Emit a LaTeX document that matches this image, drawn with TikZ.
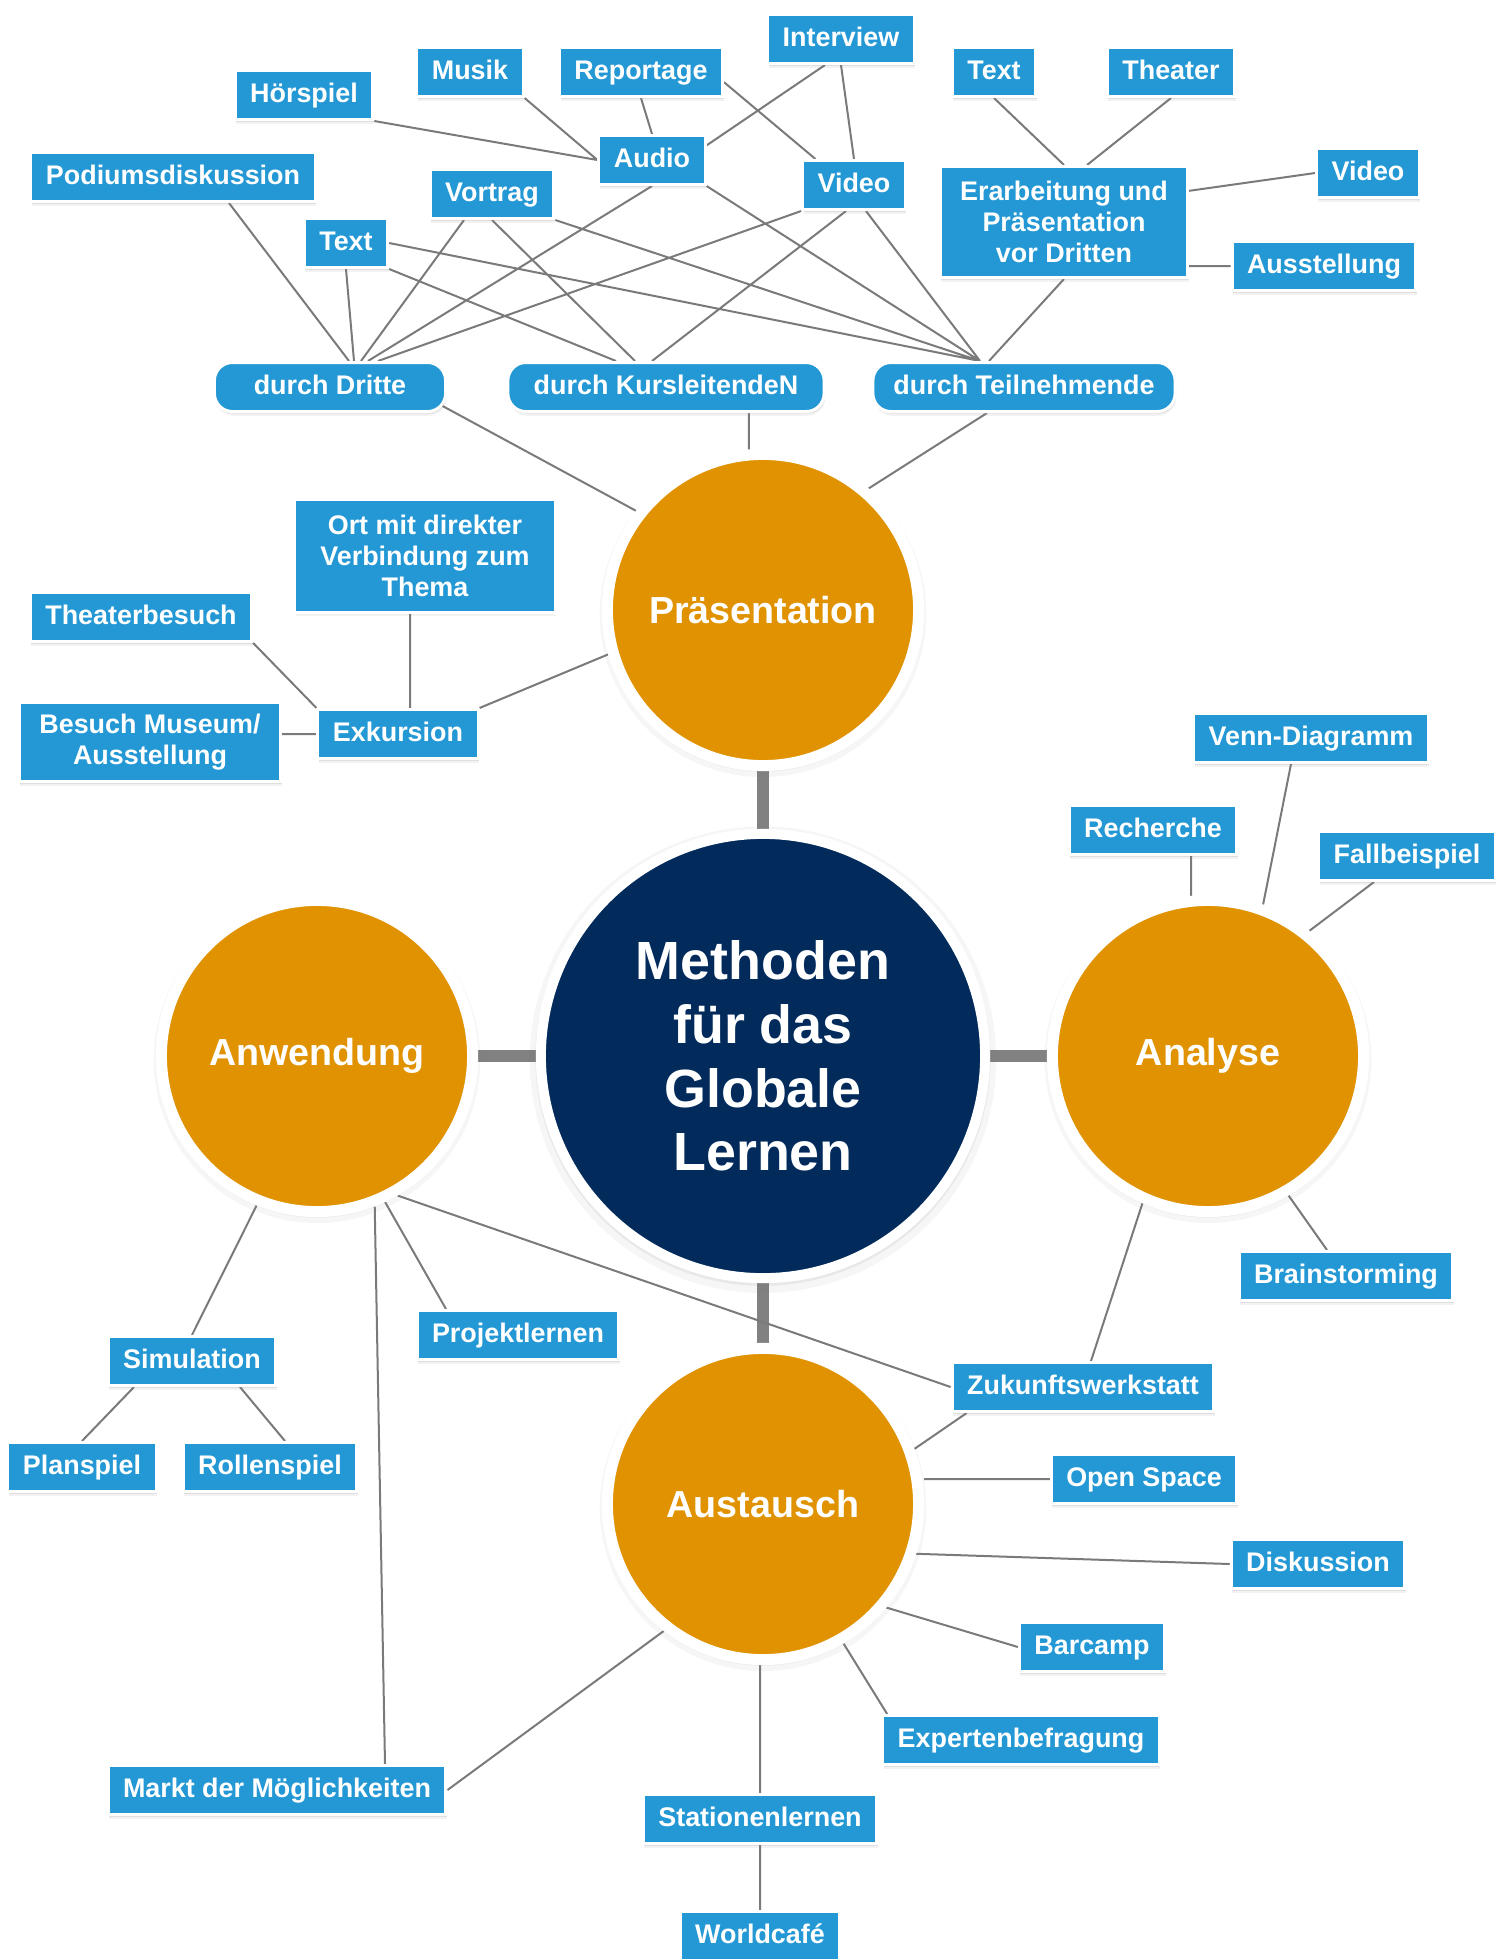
\documentclass[tikz,border=0pt]{standalone}
\usepackage{fontspec}
\setmainfont{Liberation Sans}
\usepackage{tikz}
\usetikzlibrary{calc,shadows}
\definecolor{method blue}{RGB}{35,152,213}
\definecolor{phase orange}{RGB}{224,146,0}
\definecolor{core navy}{RGB}{2,43,92}
\definecolor{link gray}{RGB}{122,122,122}
\pgfdeclarelayer{bg}
\pgfsetlayers{bg,main}

\tikzset{
	box base/.style={draw=white, line width=0.03cm, fill=method blue, text=white,
		font=\fontsize{7.65}{8.8}\selectfont\bfseries, inner xsep=0.15cm, inner ysep=0pt,
		minimum height=0.49cm, align=center,
		drop shadow={opacity=0.1, shadow xshift=0.3pt, shadow yshift=-1.2pt},
		drop shadow={opacity=0.18, shadow xshift=0.3pt, shadow yshift=-0.6pt}},
	method/.style={box base, text height=5.6pt, text depth=1.6pt},
	method block/.style={box base},
	via/.style={method, rounded corners=0.18cm},
	halo/.style={drop shadow={opacity=0.07, shadow scale=1.05, shadow xshift=0pt, shadow yshift=-1pt},
		drop shadow={opacity=0.12, shadow scale=1.025, shadow xshift=0pt, shadow yshift=-0.6pt}},
	phase/.style={circle, draw=white, line width=0.11cm, fill=phase orange, text=white,
		font=\fontsize{10.7}{12.8}\selectfont\bfseries, minimum size=3.11cm, inner sep=0pt, halo},
	link/.style={draw=link gray, line width=0.02cm},
	bond/.style={draw=link gray!95, line width=0.12cm}
}

\begin{document}
\begin{tikzpicture}[x=0.01cm, y=-0.01cm]
		\useasboundingbox (0,0) rectangle (1503,1959);
		% centre and the four phases
		\node[circle, draw=white, line width=0.1cm, fill=core navy, text=white, minimum size=4.44cm,
			inner sep=0pt, align=center, font=\fontsize{15.3}{18.1}\selectfont\bfseries, halo]
			(core) at (763,1056) {Methoden\\für das\\Globale\\Lernen};
		\node[phase] (praes) at (763,610) {Präsentation};
		\node[phase] (analyse) at (1208,1056) {Analyse};
		\node[phase] (anw) at (317,1056) {Anwendung};
		\node[phase] (aust) at (763,1504) {Austausch};
		% part for Praesentation
		\node[method] (interview) at (841,39) {Interview};
		\node[method] (texttop) at (994,72) {Text};
		\node[method] (theater) at (1171,72) {Theater};
		\node[method] (musik) at (470,72) {Musik};
		\node[method] (reportage) at (641,72) {Reportage};
		\node[method] (hoerspiel) at (304,95) {Hörspiel};
		\node[method] (audio) at (652,160) {Audio};
		\node[method] (video) at (854,185) {Video};
		\node[method] (podium) at (173,177) {Podiumsdiskussion};
		\node[method] (vortrag) at (492,194) {Vortrag};
		\node[method] (textleft) at (346,243) {Text};
		\node[method block, minimum width=2.47cm, minimum height=1.11cm] (erarb) at (1064,222)
			{Erarbeitung und\\Präsentation\\vor Dritten};
		\node[method] (videoright) at (1368,173) {Video};
		\node[method] (ausstellung) at (1324,266) {Ausstellung};
		\node[via, minimum width=2.31cm] (dritte) at (330,387) {durch Dritte};
		\node[via, minimum width=3.16cm] (kursl) at (666,387) {durch KursleitendeN};
		\node[via, minimum width=3.02cm] (teiln) at (1024,387) {durch Teilnehmende};
		\node[method block, minimum width=2.60cm, minimum height=1.12cm] (ort) at (425,556)
			{Ort mit direkter\\Verbindung zum\\Thema};
		\node[method] (theaterbesuch) at (141,617) {Theaterbesuch};
		\node[method block, minimum width=2.61cm, minimum height=0.79cm] (museum) at (150,742)
			{Besuch Museum/\\Ausstellung};
		\node[method] (exkursion) at (398,734) {Exkursion};
		% part for Analyse
		\node[method] (venn) at (1311,738) {Venn-Diagramm};
		\node[method] (recherche) at (1153,830) {Recherche};
		\node[method] (fallbeispiel) at (1407,856) {Fallbeispiel};
		\node[method] (brainstorming) at (1346,1276) {Brainstorming};
		% part for Anwendung
		\node[method] (projekt) at (518,1335) {Projektlernen};
		\node[method] (simulation) at (192,1361) {Simulation};
		\node[method] (planspiel) at (82,1467) {Planspiel};
		\node[method] (rollenspiel) at (270,1467) {Rollenspiel};
		\node[method] (markt) at (277,1790) {Markt der Möglichkeiten};
		% part for Austausch
		\node[method] (zukunft) at (1083,1387) {Zukunftswerkstatt};
		\node[method] (openspace) at (1144,1479) {Open Space};
		\node[method] (diskussion) at (1318,1564) {Diskussion};
		\node[method] (barcamp) at (1092,1647) {Barcamp};
		\node[method] (experten) at (1021,1740) {Expertenbefragung};
		\node[method] (stationen) at (760,1819) {Stationenlernen};
		\node[method] (worldcafe) at (760,1936) {Worldcafé};
		\path ($(exkursion.north)+(12,0)$) coordinate (exktop);
		% connectors, behind the nodes
		\begin{pgfonlayer}{bg}
			\draw[bond] (core) -- (praes) (core) -- (analyse) (core) -- (anw) (core) -- (aust);
			\draw[link]
				(hoerspiel.south east) -- (audio.west)
				(musik.south east) -- (audio.west)
				(reportage.south) -- (audio.north)
				(audio.15) -- ($(interview.south)+(-16,0)$)
				(reportage.-7) -- (video.146)
				(interview.south) -- (video.north)
				(texttop.south) -- (erarb.north)
				(theater.south) -- (erarb.68)
				(erarb.14) -- (videoright.west)
				(ausstellung.west) -- (ausstellung.west -| erarb.east)
				(erarb.south) -- ($(teiln.north)+(-35,0)$);
			\draw[link]
				($(podium.south)+(56,0)$) -- ($(dritte.north)+(19,0)$)
				(textleft.south) -- ($(dritte.north)+(24,0)$)
				($(vortrag.south)+(-28,0)$) -- ($(dritte.north)+(31,0)$)
				(audio.south) -- ($(dritte.north)+(38,0)$)
				(video.south west) -- ($(dritte.north)+(48,0)$)
				(textleft.south east) -- ($(kursl.north)+(-50,0)$)
				(vortrag.south) -- ($(kursl.north)+(-31,0)$)
				($(video.south)+(-8,0)$) -- ($(kursl.north)+(-14,0)$)
				(textleft.east) -- ($(teiln.north)+(-44,0)$)
				(vortrag.south east) -- ($(teiln.north)+(-44,0)$)
				(audio.south east) -- ($(teiln.north)+(-44,0)$)
				($(video.south)+(12,0)$) -- ($(teiln.north)+(-44,0)$);
			\draw[link]
				($(dritte.east)+(-10,16)$) -- (praes.142)
				(praes.95) -- (praes.95 |- kursl.south)
				($(teiln.south)+(-37,0)$) -- (praes.49)
				(exkursion.north east) -- (praes.196)
				(theaterbesuch.south east) -- (exkursion.north west)
				(exktop) -- (exktop |- ort.south)
				(exkursion.west) -- (exkursion.west -| museum.east);
			\draw[link]
				(analyse.96) -- (analyse.96 |- recherche.south)
				($(venn.south)+(-20,0)$) -- (analyse.70)
				($(fallbeispiel.south)+(-33,0)$) -- (analyse.51)
				($(brainstorming.north)+(-19,0)$) -- (analyse.-60)
				($(zukunft.north)+(8,0)$) -- (analyse.-114);
			\draw[link]
				(simulation.north) -- (anw.-112)
				(planspiel.north) -- ($(simulation.south)+(-58,0)$)
				($(rollenspiel.north)+(15,0)$) -- ($(simulation.south)+(48,0)$)
				($(projekt.north)+(-72,0)$) -- (anw.-65)
				($(markt.north)+(108,0)$) -- (anw.-69)
				(zukunft.west) -- (anw.-60);
			\draw[link]
				($(zukunft.south west)+(16,0)$) -- (aust.20)
				(openspace.west) -- (openspace.west -| aust.east)
				(diskussion.west) -- (aust.-18)
				(barcamp.west) -- (aust.-40)
				($(experten.north west)+(6,0)$) -- (aust.-60)
				(stationen.north) -- (stationen.north |- aust.south)
				(worldcafe.north) -- (stationen.south)
				(markt.east) -- (aust.-128);
		\end{pgfonlayer}
	\end{tikzpicture}
\end{document}
